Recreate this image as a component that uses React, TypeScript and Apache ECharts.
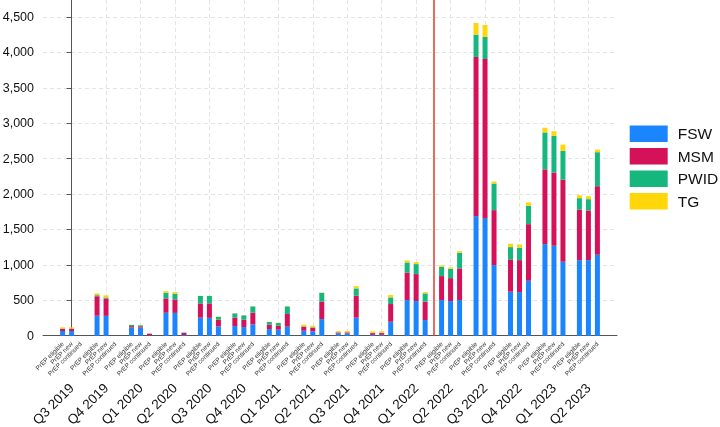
import React, { useEffect, useRef } from "react";
import * as echarts from "echarts";

const quarters = [
  "Q3 2019", "Q4 2019", "Q1 2020", "Q2 2020", "Q3 2020", "Q4 2020", "Q1 2021", "Q2 2021",
  "Q3 2021", "Q4 2021", "Q1 2022", "Q2 2022", "Q3 2022", "Q4 2022", "Q1 2023", "Q2 2023",
];
const prepTypes = ["PrEP eligible", "PrEP new", "PrEP continued"];
const populations = ["FSW", "MSM", "PWID", "TG"];

const eligibleFSW = [68, 282, 115, 324, 254, 136, 94, 70, 30, 12, 503, 503, 1688, 621, 1293, 1067];
const eligibleMSM = [30, 275, 20, 203, 202, 118, 61, 55, 15, 25, 390, 339, 2248, 456, 1055, 715];
const eligiblePWID = [5, 15, 17, 80, 105, 61, 38, 8, 5, 5, 141, 131, 315, 174, 522, 160];
const eligibleTG = [17, 25, 3, 23, 3, 3, 3, 22, 15, 20, 29, 19, 164, 47, 66, 42];

const newFSW = [66, 280, 115, 322, 252, 122, 85, 61, 30, 12, 489, 489, 1660, 616, 1270, 1067];
const newMSM = [30, 245, 18, 190, 204, 104, 56, 50, 15, 25, 381, 324, 2247, 451, 1034, 701];
const newPWID = [5, 15, 14, 80, 105, 61, 38, 8, 5, 5, 141, 132, 311, 174, 517, 160];
const newTG = [17, 30, 3, 24, 3, 3, 3, 22, 16, 20, 28, 19, 169, 47, 66, 42];

const continuedFSW = [0, 0, 5, 10, 132, 160, 127, 235, 254, 197, 221, 503, 997, 776, 1044, 1143];
const continuedMSM = [0, 0, 22, 30, 94, 164, 179, 245, 310, 250, 259, 447, 776, 799, 1161, 968];
const continuedPWID = [0, 0, 3, 5, 40, 90, 108, 125, 104, 94, 117, 221, 376, 259, 405, 480];
const continuedTG = [0, 0, 0, 0, 4, 4, 4, 5, 32, 33, 19, 23, 28, 47, 89, 37];

const yTicks = [0, 500, 1000, 1500, 2000, 2500, 3000, 3500, 4000, 4500];
const yMax = 4740;
// Boundary between Q1 2022 and Q2 2022 (index units)
const policyBreak = 10.5;

const colorMap: Record<string, string> = {
  FSW: "#1A85FF",
  MSM: "#D41159",
  PWID: "#16B77E",
  TG: "#FFD60A",
};

const FONT = "Liberation Sans, Arial, Helvetica, sans-serif";

export default function App() {
  const ref = useRef<HTMLDivElement>(null);

  useEffect(() => {
    if (!ref.current) return;
    const chart = echarts.init(ref.current, null, { renderer: "svg" });

    const stacks = [
      { key: "eligible", label: prepTypes[0], data: [eligibleFSW, eligibleMSM, eligiblePWID, eligibleTG] },
      { key: "new", label: prepTypes[1], data: [newFSW, newMSM, newPWID, newTG] },
      { key: "continued", label: prepTypes[2], data: [continuedFSW, continuedMSM, continuedPWID, continuedTG] },
    ];

    const series: any[] = [];
    stacks.forEach((s) => {
      populations.forEach((p, pi) => {
        const item: any = {
          type: "bar",
          name: p,
          stack: s.key,
          barWidth: 5,
          barGap: "80%",
          // value first so that the stacked dimension is the y value
          dimensions: ["count", "quarter"],
          encode: { x: "quarter", y: "count" },
          data: s.data[pi].map((v, i) => [v, i]),
          itemStyle: { color: colorMap[p] },
          emphasis: { disabled: true },
          silent: true,
        };
        if (pi === 0) {
          item.label = {
            show: true,
            position: "bottom",
            distance: 7,
            rotate: 45,
            align: "right",
            verticalAlign: "middle",
            formatter: () => s.label,
            fontSize: 6.5,
            color: "#333",
            fontFamily: FONT,
          };
        }
        series.push(item);
      });
    });

    series.push({
      type: "line",
      name: "break",
      data: [],
      silent: true,
      markLine: {
        silent: true,
        symbol: ["none", "none"],
        label: { show: false },
        lineStyle: { color: "#E8382A", width: 1.5, type: "solid" },
        data: [{ xAxis: policyBreak }],
      },
    });

    const xTicks = quarters.map((_, i) => i);

    chart.setOption({
      animation: false,
      textStyle: { fontFamily: FONT },
      grid: {
        left: 43,
        right: 103,
        top: 0,
        bottom: 91.3,
        containLabel: false,
        outerBoundsMode: "none",
      },
      legend: {
        data: populations,
        orient: "vertical",
        left: 629.7,
        top: 125.5,
        padding: 0,
        icon: "rect",
        itemWidth: 38,
        itemHeight: 16.5,
        itemGap: 6,
        selectedMode: false,
        textStyle: { fontSize: 15.5, color: "#111", padding: [0, 0, 0, 5], fontFamily: FONT },
      },
      xAxis: {
        type: "value",
        min: -0.83,
        max: 15.83,
        axisLine: { show: true, lineStyle: { color: "#555", width: 1 } },
        axisTick: { show: false, customValues: xTicks },
        axisLabel: {
          show: true,
          customValues: xTicks,
          formatter: (v: number) => quarters[Math.round(v)] ?? "",
          rotate: 45,
          margin: 50,
          fontSize: 13.5,
          color: "#111",
          fontFamily: FONT,
          showMinLabel: true,
          showMaxLabel: true,
        },
        splitLine: { show: true, lineStyle: { color: "#e4e4e4", type: [4, 3], width: 1 } },
      },
      yAxis: {
        type: "value",
        min: 0,
        max: yMax,
        axisLine: { show: true, lineStyle: { color: "#555", width: 1 } },
        axisTick: { show: true, length: 5, customValues: yTicks, lineStyle: { color: "#555" } },
        axisLabel: {
          customValues: yTicks,
          formatter: (v: number) => v.toLocaleString("en-US"),
          margin: 9,
          fontSize: 12.5,
          color: "#111",
          fontFamily: FONT,
        },
        splitLine: { show: true, lineStyle: { color: "#e4e4e4", type: [4, 3], width: 1 } },
      },
      series,
    });

    return () => chart.dispose();
  }, []);

  return (
    <div
      ref={ref}
      style={{ position: "fixed", left: 0, top: 0, width: 720, height: 427 }}
    />
  );
}
